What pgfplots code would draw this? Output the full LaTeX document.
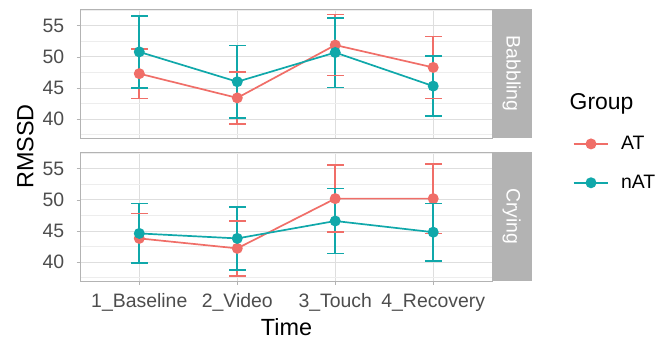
\documentclass[border=0pt]{standalone}
\usepackage{fontspec}
\setmainfont{Liberation Sans}
\usepackage{pgfplots}
\pgfplotsset{compat=1.18}
\usepackage{pgfplotstable}
\definecolor{cAT}{RGB}{240,110,104}
\definecolor{cnAT}{RGB}{16,168,170}
\definecolor{grey70}{RGB}{179,179,179}
\definecolor{grey87}{RGB}{222,222,222}
\definecolor{grey93}{RGB}{237,237,237}
\definecolor{grey30}{RGB}{77,77,77}

% Babbling means
\pgfplotstableread{
x y
1 47.3
2 43.4
3 51.9
4 48.3
}\babAT
\pgfplotstableread{
x y
1 50.8
2 46.0
3 50.7
4 45.3
}\babnAT
% Crying means
\pgfplotstableread{
x y
1 43.8
2 42.2
3 50.2
4 50.2
}\cryAT
\pgfplotstableread{
x y
1 44.6
2 43.8
3 46.6
4 44.8
}\crynAT

\pgfplotsset{
 panel/.style={
  scale only axis, width=411.5bp, height=129bp,
  xmin=0.4, xmax=4.6, ymin=36.95, ymax=57.7,
  xtick={1,2,3,4}, ytick={40,45,50,55},
  minor ytick={37.5,42.5,47.5,52.5,57.5},
  grid=both,
  major grid style={grey87, line width=0.8bp},
  minor grid style={grey93, line width=0.5bp},
  axis line style={grey70, line width=0.7bp},
  tick style={grey70, line width=0.7bp},
  major tick length=4bp, minor tick length=0pt,
  tick align=outside, tick pos=left,
  /pgf/number format/assume math mode=true,
  ticklabel style={font=\fontsize{19.5}{20}\selectfont, text=grey30},
  yticklabel style={anchor=east, inner sep=0pt, xshift=-12bp},
  clip=false,
 },
 grp/.style={color=#1, line width=1.7bp, mark=*, mark size=4.6bp, mark options={solid}},
 eb/.style={draw=#1, line width=2bp, line cap=butt, mark=-, mark size=8.5bp, mark options={solid, draw=#1, line width=1.6bp}, forget plot},
}

\begin{document}
\begin{tikzpicture}
\useasboundingbox (0,0) rectangle (661bp,345bp);

% top panel: Babbling
\begin{axis}[panel, at={(80.5bp,207bp)}, anchor=south west,
  xticklabels={}, xtick style={draw=none}]
  \addplot[grp=cAT] table[x=x, y=y] {\babAT};
  \addplot[eb=cAT] coordinates {(1,43.3) (1,51.3)};
  \addplot[eb=cAT] coordinates {(2,39.2) (2,47.6)};
  \addplot[eb=cAT] coordinates {(3,47.0) (3,56.8)};
  \addplot[eb=cAT] coordinates {(4,43.3) (4,53.3)};
  \addplot[grp=cnAT] table[x=x, y=y] {\babnAT};
  \addplot[eb=cnAT] coordinates {(1,45.0) (1,56.6)};
  \addplot[eb=cnAT] coordinates {(2,40.2) (2,51.8)};
  \addplot[eb=cnAT] coordinates {(3,45.1) (3,56.3)};
  \addplot[eb=cnAT] coordinates {(4,40.5) (4,50.1)};
  \fill[grey70] (rel axis cs:1,0) rectangle ([xshift=39.5bp]rel axis cs:1,1);
  \node[rotate=-90, text=white, font=\fontsize{19.5}{20}\selectfont] at ([xshift=19.75bp]rel axis cs:1,0.5) {Babbling};
\end{axis}

% bottom panel: Crying
\begin{axis}[panel, at={(80.5bp,64bp)}, anchor=south west,
  xticklabels={1\_Baseline,2\_Video,3\_Touch,4\_Recovery},
  xticklabel style={anchor=base, inner sep=0pt, yshift=-22bp},
  legend style={draw=none, fill=none, at={(rel axis cs:1.196,0.912)}, anchor=west,
     font=\fontsize{19.5}{20}\selectfont, row sep=20bp, column sep=10bp, inner sep=0pt},
  legend cell align=left,
  legend image code/.code={\draw[#1, mark repeat=2, mark phase=2] plot coordinates {(0bp,0bp) (17.3bp,0bp) (34.6bp,0bp)};}
  ]
  \addplot[grp=cAT] table[x=x, y=y] {\cryAT};
  \addlegendentry{AT}
  \addplot[eb=cAT] coordinates {(1,39.8) (1,47.8)};
  \addplot[eb=cAT] coordinates {(2,37.8) (2,46.6)};
  \addplot[eb=cAT] coordinates {(3,44.8) (3,55.6)};
  \addplot[eb=cAT] coordinates {(4,44.6) (4,55.8)};
  \addplot[grp=cnAT] table[x=x, y=y] {\crynAT};
  \addlegendentry{nAT}
  \addplot[eb=cnAT] coordinates {(1,39.8) (1,49.4)};
  \addplot[eb=cnAT] coordinates {(2,38.7) (2,48.9)};
  \addplot[eb=cnAT] coordinates {(3,41.4) (3,51.8)};
  \addplot[eb=cnAT] coordinates {(4,40.2) (4,49.4)};
  \fill[grey70] (rel axis cs:1,0) rectangle ([xshift=39.5bp]rel axis cs:1,1);
  \node[rotate=-90, text=white, font=\fontsize{19.5}{20}\selectfont] at ([xshift=19.75bp]rel axis cs:1,0.5) {Crying};
\end{axis}

\node[anchor=base, rotate=90, font=\fontsize{23.5}{24}\selectfont] at (33.3bp,198.5bp) {RMSSD};
\node[anchor=base, font=\fontsize{23.5}{24}\selectfont] at (286.5bp,10bp) {Time};
\node[anchor=base west, inner sep=0pt, font=\fontsize{23}{24}\selectfont] at (569.5bp,235.7bp) {Group};
\end{tikzpicture}
\end{document}
